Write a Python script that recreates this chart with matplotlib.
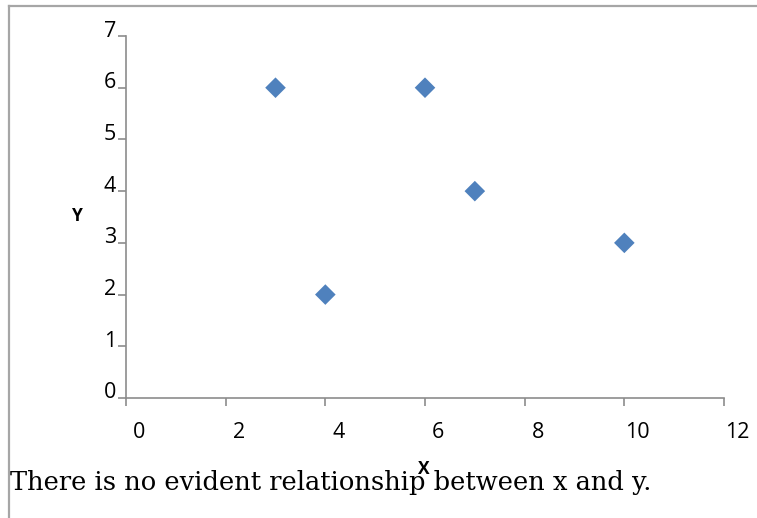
import matplotlib
matplotlib.use("Agg")
import matplotlib.pyplot as plt
from matplotlib.lines import Line2D
from matplotlib.transforms import ScaledTranslation, blended_transform_factory

x_values = [3, 4, 6, 7, 10]
y_values = [6, 2, 6, 4, 3]
x_ticks = [0, 2, 4, 6, 8, 10, 12]
y_ticks = [0, 1, 2, 3, 4, 5, 6, 7]
caption = "There is no evident relationship between x and y."

W, H = 757, 518
fig = plt.figure(figsize=(W / 100, H / 100), dpi=100)
fig.patch.set_facecolor("white")

# frame around the chart (left and top edges)
fig.add_artist(Line2D([9 / W, 9 / W], [0, 1 - 6 / H], transform=fig.transFigure,
                      color="#a6a6a6", lw=1.6))
fig.add_artist(Line2D([9 / W, 1], [1 - 6 / H, 1 - 6 / H], transform=fig.transFigure,
                      color="#a6a6a6", lw=1.6))

ax = fig.add_axes([126 / W, 1 - 398 / H, (724 - 126) / W, (398 - 36) / H])
ax.scatter(x_values, y_values, marker="D", s=110, color="#4f81bd",
           edgecolors="none", zorder=3)

ax.set_xlim(0, 12)
ax.set_ylim(0, 7)
ax.set_xticks(x_ticks)
ax.set_yticks(y_ticks)
ax.set_xticklabels([])
ax.set_yticklabels([])

for side in ("top", "right"):
    ax.spines[side].set_visible(False)
for side in ("left", "bottom"):
    ax.spines[side].set_color("#8c8c8c")
    ax.spines[side].set_linewidth(1.2)
ax.tick_params(axis="both", colors="#8c8c8c", length=6, width=1.2)

# tick labels, offset from their ticks in the spreadsheet style
px = 1 / 100
xlab_tr = blended_transform_factory(ax.transData, ax.transAxes) + \
    ScaledTranslation(13 * px, -34 * px, fig.dpi_scale_trans)
for t in x_ticks:
    ax.text(t, 0, str(t), transform=xlab_tr, fontsize=15.5, family="Open Sans",
            ha="center", va="center", clip_on=False)

ylab_tr = blended_transform_factory(ax.transAxes, ax.transData) + \
    ScaledTranslation(-10 * px, 5 * px, fig.dpi_scale_trans)
for t in y_ticks:
    ax.text(0, t, str(t), transform=ylab_tr, fontsize=15.5, family="Open Sans",
            ha="right", va="center", clip_on=False)

fig.text(77 / W, 1 - 216 / H, "Y", fontsize=12.5, fontweight="bold",
         family="Open Sans", ha="center", va="center")
fig.text(424 / W, 1 - 469 / H, "X", fontsize=12.5, fontweight="bold",
         family="Open Sans", ha="center", va="center")

fig.text(10 / W, 1 - 490 / H, caption, fontsize=18.5, family="DejaVu Serif",
         ha="left", va="baseline")

fig.savefig("out.png", dpi=100)
